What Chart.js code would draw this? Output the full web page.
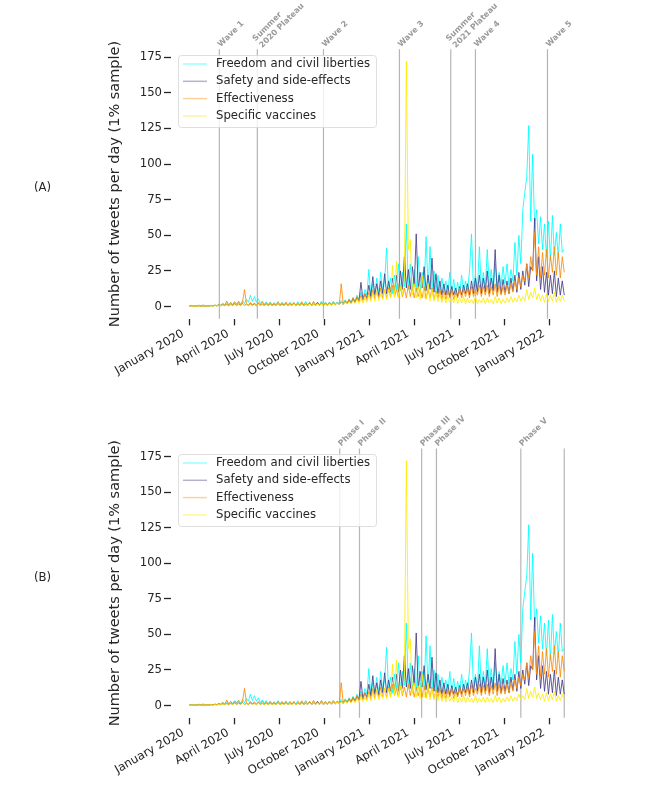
<!DOCTYPE html>
<html><head><meta charset="utf-8">
<script src="https://cdn.jsdelivr.net/npm/chart.js@4.4.0/dist/chart.umd.min.js"></script>
<style>
body{margin:0;background:#fff;width:666px;height:799px;position:relative;overflow:hidden;font-family:"DejaVu Sans",sans-serif;}
.panel{position:absolute;left:0;width:666px;height:400px;}
.plab{position:absolute;font-size:11.7px;color:#262626;font-family:"DejaVu Sans",sans-serif;line-height:14px;}
</style></head><body>
<div class="panel" style="top:0px"><canvas id="cA" width="666" height="400"></canvas></div>
<div class="panel" style="top:399px"><canvas id="cB" width="666" height="400"></canvas></div>
<div class="plab" style="left:34px;top:180px">(A)</div>
<div class="plab" style="left:34px;top:570px">(B)</div>
<script>
// ---- data (one value every 4 days, starting 1 January 2020) ----
const STEP_DAYS = 4;
const freedom = [
0.4,0.9,0.3,0.7,0.5,1.0,0.4,0.8,0.3,0.7,
0.5,0.9,0.4,1.1,0.6,1.6,0.9,2.2,1.0,2.6,
1.2,3.0,1.4,3.4,1.6,3.8,1.5,4.2,2.0,5.0,
3.0,8.0,3.5,7.0,3.0,5.5,2.0,4.0,1.5,3.5,
1.2,3.2,1.0,2.8,1.4,3.5,1.0,3.0,1.3,2.6,
1.0,3.0,1.2,2.6,0.9,3.4,1.1,2.8,1.3,3.6,
1.2,2.8,1.0,3.2,1.4,2.6,1.1,3.8,1.5,3.0,
1.2,3.2,1.5,3.6,1.8,3.0,2.0,4.2,2.4,4.8,
2.5,5.5,3.0,6.5,3.5,8.0,4.5,10.0,5.0,12.0,
8,26,7,16,9,20,8,24,10,18,
41,10,20,9,22,12,30,11,24,14,
58,12,30,11,26,10,35,12,24,11,
49,12,42,11,25,10,22,9,20,10,
18,8,24,9,19,8,17,9,22,10,
18,10,25,51,12,22,11,42,12,24,
13,40,14,26,12,30,14,24,15,28,
16,30,15,26,18,45,22,50,30,68,
80,91,127,60,107,55,68,44,63,40,
58,35,60,32,64,36,52,34,58,38,
40];
const safety = [
0.2,0.5,0.2,0.4,0.3,0.6,0.2,0.4,0.3,0.5,
0.3,0.6,0.4,0.8,0.5,1.0,0.6,1.3,0.7,1.5,
0.6,1.6,0.8,2.0,0.7,1.8,0.9,2.2,0.8,1.6,
0.7,2.0,0.9,1.8,0.6,2.2,0.8,1.6,0.7,1.9,
0.6,1.7,0.8,1.5,0.7,2.0,0.6,1.6,0.8,1.8,
0.7,1.5,0.9,2.1,0.6,1.7,0.8,2.0,0.7,1.6,
0.8,2.2,0.7,1.8,0.9,3.0,0.8,2.0,0.7,1.9,
0.9,2.1,1.0,2.4,1.1,2.8,1.2,3.2,1.5,3.6,
2.0,4.5,2.4,5.5,3.0,6.5,4.0,17.0,5.0,9.0,
6,15,7,21,8,16,7,18,9,23,
9,18,10,20,11,22,10,25,12,35,
13,26,12,28,14,51,12,24,13,28,
11,22,12,34,10,23,9,18,8,16,
8,15,7,14,8,13,7,14,8,15,
9,16,8,18,9,20,10,22,9,20,
10,25,9,20,11,40,10,22,9,19,
10,18,9,20,11,22,10,24,12,25,
15,30,14,28,25,62,18,35,12,28,
10,24,8,22,9,25,7,20,8,18,
8];
const effectiveness = [
0.3,0.6,0.2,0.5,0.3,0.7,0.4,1.2,0.3,0.6,
0.4,0.8,0.5,1.0,0.6,1.5,0.8,2.0,1.0,3.9,
1.2,2.8,1.0,3.2,1.4,3.5,1.2,3.0,12.0,2.0,
1.0,3.0,1.2,2.6,0.9,2.8,1.1,3.2,1.0,2.5,
0.9,2.8,1.1,2.4,0.8,3.0,1.0,2.6,1.2,3.2,
0.8,2.6,1.0,2.9,0.9,2.4,1.2,3.4,1.0,2.7,
1.1,3.0,0.9,3.6,1.0,2.5,1.2,3.1,1.0,2.8,
1.2,2.9,1.0,3.3,1.3,2.8,1.4,16.0,2.0,4.0,
2.5,5.0,2.8,6.0,3.0,7.0,3.5,8.0,4.0,9.0,
4.5,10,5,12,5.5,11,6,13,6,12,
6,13,6.5,15,7,12,6,14,7,13,
6,15,7,14,6,13,7,12,6,14,
5.5,12,6,13,5,11,6,12,5,11,
5,11,6,12,5,10,6,13,6,12,
7,13,6,14,7,12,8,15,7,14,
8,15,7,14,8,16,7,15,8,14,
8,15,9,16,10,18,12,20,14,22,
18,30,20,35,25,52,22,42,20,38,
22,40,20,36,24,42,22,38,20,35,
24];
const specificVaccines = [
0.2,0.4,0.2,0.5,0.3,0.4,0.2,0.5,0.3,0.4,
0.3,0.5,0.3,0.6,0.4,0.9,0.5,1.1,0.6,1.3,
0.5,1.4,0.6,1.6,0.7,1.5,0.6,1.8,0.8,1.5,
0.6,1.6,0.7,1.4,0.6,1.7,0.8,1.5,0.6,1.4,
0.6,1.5,0.7,1.3,0.6,1.8,0.7,1.4,0.6,1.6,
0.7,1.6,0.6,1.8,0.7,1.5,0.8,1.7,0.6,1.9,
0.8,1.8,0.7,2.2,0.8,1.6,0.9,2.0,0.8,1.7,
0.9,2.0,1.0,2.2,1.1,2.6,1.2,3.0,1.4,3.2,
1.6,3.5,1.8,4.0,2.0,4.8,2.2,5.5,2.5,6.0,
3,8,3.5,9,4,11,4,9,5,12,
5,12,6,29,7,32,6,14,8,20,
172,40,47,8,16,6,14,5,22,7,
5,16,4,12,4,10,3.5,9,3,8,
2.5,7,3,6,2.5,8,2,6,2.5,7,
2,6,2.5,5,2,7,2,5,2.5,6,
2,6,2.5,5,2,7,2.5,6,2,5,
2.5,6,3,7,3,6,3.5,8,4,7,
4,12,5,10,6,13,5,9,4,8,
3,9,3.5,8,4,10,3,7,3.5,8,
4];

const seriesNames = ['Freedom and civil liberties','Safety and side-effects','Effectiveness','Specific vaccines'];
const seriesColors = ['0,255,255','72,61,139','255,140,0','255,236,0'];

// x ticks (days since 1 Jan 2020)
const tickDays = [0, 91, 182, 274, 366, 456, 547, 639, 731];
const tickLabels = ['January 2020','April 2020','July 2020','October 2020','January 2021','April 2021','July 2021','October 2021','January 2022'];
const yTicks = [0, 25, 50, 75, 100, 125, 150, 175];

// event lines (days since 1 Jan 2020)
const waveDays = [61, 138, 272, 426, 530, 580, 726];
const waveLabels = ['Wave 1', 'Summer\n2020 Plateau', 'Wave 2', 'Wave 3', 'Summer\n2021 Plateau', 'Wave 4', 'Wave 5'];
const phaseDays = [305, 345, 471, 501, 672, 760];
const phaseLabels = ['Phase I', 'Phase II', 'Phase III', 'Phase IV', 'Phase V', ''];

const TEXT = '#262626';
const FONT = '"DejaVu Sans", sans-serif';

const eventPlugin = {
  id: 'eventLines',
  beforeDatasetsDraw(chart, args, opts) {
    const {ctx, chartArea, scales} = chart;
    ctx.save();
    ctx.strokeStyle = 'rgba(150,150,150,0.7)';
    ctx.lineWidth = 1.2;
    opts.days.forEach(d => {
      const px = scales.x.getPixelForValue(d);
      ctx.beginPath(); ctx.moveTo(px, chartArea.top); ctx.lineTo(px, chartArea.bottom); ctx.stroke();
    });
    ctx.restore();
  },
  afterDraw(chart, args, opts) {
    const {ctx, chartArea, scales} = chart;
    ctx.save();
    ctx.font = 'bold 8px ' + FONT;
    ctx.fillStyle = '#9a9a9a';
    ctx.textAlign = 'left';
    ctx.textBaseline = 'alphabetic';
    opts.days.forEach((d, i) => {
      const txt = opts.labels[i];
      if (!txt) return;
      const px = scales.x.getPixelForValue(d);
      const parts = txt.split('\n');
      ctx.save();
      if (parts.length > 1) ctx.translate(px + 5, chartArea.top - 1);
      else ctx.translate(px + 1.5, chartArea.top - 2);
      ctx.rotate(-Math.PI / 4);
      parts.forEach((t, k) => ctx.fillText(t, 0, -(parts.length - 1 - k) * 9.5));
      ctx.restore();
    });
    // legend
    const lx = 178, ly = 55, lw = 198, lh = 72;
    ctx.fillStyle = 'rgba(255,255,255,0.8)';
    ctx.strokeStyle = 'rgba(215,215,215,0.8)';
    ctx.lineWidth = 1;
    ctx.beginPath();
    ctx.roundRect(lx + 0.5, ly + 0.5, lw, lh, 3);
    ctx.fill(); ctx.stroke();
    ctx.font = '11.7px ' + FONT;
    ctx.textBaseline = 'middle';
    seriesNames.forEach((n, k) => {
      const yy = 64 + k * 17.3;
      ctx.strokeStyle = 'rgba(' + seriesColors[k] + ',0.4)';
      ctx.lineWidth = 1.5;
      ctx.beginPath(); ctx.moveTo(183, yy); ctx.lineTo(207, yy); ctx.stroke();
      ctx.fillStyle = TEXT;
      ctx.fillText(n, 216, yy);
    });
    ctx.restore();
  }
};

function makeDatasets() {
  const all = [freedom, safety, effectiveness, specificVaccines];
  return all.map((arr, k) => ({
    label: seriesNames[k],
    data: arr.map((v, i) => ({x: i * STEP_DAYS, y: v})),
    borderColor: 'rgba(' + seriesColors[k] + ',0.85)',
    borderWidth: 1,
    pointRadius: 0,
    tension: 0,
    order: 3 - k
  }));
}

function makeChart(id, padTop, days, labels) {
  return new Chart(document.getElementById(id), {
    type: 'line',
    data: {datasets: makeDatasets()},
    plugins: [eventPlugin],
    options: {
      responsive: false,
      animation: false,
      events: [],
      layout: {padding: {left: 107, right: 83, top: padTop, bottom: 0}},
      plugins: {
        legend: {display: false},
        tooltip: {enabled: false},
        eventLines: {days: days, labels: labels}
      },
      scales: {
        x: {
          type: 'linear', min: -38, max: 798,
          afterBuildTicks: s => { s.ticks = tickDays.map(v => ({value: v})); },
          afterFit: s => { s.height = 81.2; },
          ticks: {
            autoSkip: false, minRotation: 30, maxRotation: 30,
            color: TEXT, font: {family: FONT, size: 11.7}, padding: 1.5, labelOffset: -6,
            callback: v => { const j = tickDays.indexOf(v); return j >= 0 ? tickLabels[j] : ''; }
          },
          grid: {display: true, drawOnChartArea: false, drawTicks: true, tickLength: 6.5, tickColor: TEXT, tickWidth: 1.3},
          border: {display: false}
        },
        y: {
          min: -8.6, max: 180.6,
          afterBuildTicks: s => { s.ticks = yTicks.map(v => ({value: v})); },
          afterFit: s => { s.width = 63.5; },
          ticks: {color: TEXT, font: {family: FONT, size: 11.7}, padding: 2},
          grid: {display: true, drawOnChartArea: false, drawTicks: true, tickLength: 6.5, tickColor: TEXT, tickWidth: 1.3},
          border: {display: false},
          title: {display: true, text: 'Number of tweets per day (1% sample)', color: TEXT,
                  font: {family: FONT, size: 14.5}, padding: {top: 0, bottom: 0}}
        }
      }
    }
  });
}

makeChart('cA', 49.2, waveDays, waveLabels);
makeChart('cB', 49.5, phaseDays, phaseLabels);
</script>
</body></html>
